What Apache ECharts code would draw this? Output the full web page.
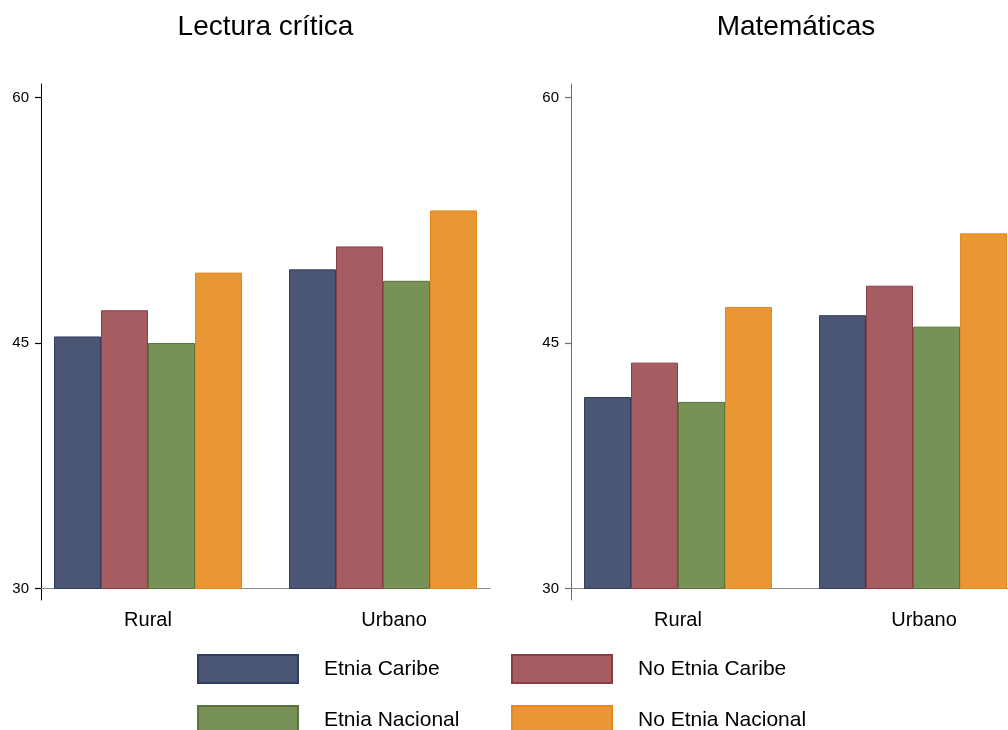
<!DOCTYPE html>
<html>
<head>
<meta charset="utf-8">
<script src="https://cdn.jsdelivr.net/npm/echarts@6/dist/echarts.min.js"></script>
<style>
html,body{margin:0;padding:0;background:#fff;}
#chart{width:1008px;height:730px;}
</style>
</head>
<body>
<div id="chart"></div>
<script>
var categories = ['Rural', 'Urbano'];
var seriesNames = ['Etnia Caribe', 'No Etnia Caribe', 'Etnia Nacional', 'No Etnia Nacional'];
var panelTitles = ['Lectura crítica', 'Matemáticas'];
var yTicks = [30, 45, 60];

// Lectura crítica
var lecEtniaCaribe = [45.4, 49.5];
var lecNoEtniaCaribe = [47.0, 50.9];
var lecEtniaNacional = [45.0, 48.8];
var lecNoEtniaNacional = [49.3, 53.1];

// Matemáticas
var matEtniaCaribe = [41.7, 46.7];
var matNoEtniaCaribe = [43.8, 48.5];
var matEtniaNacional = [41.4, 46.0];
var matNoEtniaNacional = [47.2, 51.7];

var fills = ['#4b5675', '#a65d61', '#789156', '#e99734'];
var borders = ['#2f3d5e', '#8e3c43', '#5b7339', '#e3891d'];
var FONT = "'Liberation Sans', Arial, sans-serif";

var panelData = [
  [lecEtniaCaribe, lecNoEtniaCaribe, lecEtniaNacional, lecNoEtniaNacional],
  [matEtniaCaribe, matNoEtniaCaribe, matEtniaNacional, matNoEtniaNacional]
];
var axisColors = ['#000000', '#6e6e6e'];
var panelOffset = [0, 530];

var grids = [], xAxes = [], yAxes = [], series = [];
var yMin = yTicks[0], yMax = yTicks[yTicks.length - 1];
panelData.forEach(function (sets, p) {
  var off = panelOffset[p];
  // data grid
  grids.push({left: 30.5 + off, top: 97.5, width: 470, height: 491, containLabel: false, outerBoundsMode: 'none'});
  var gi = grids.length - 1;
  xAxes.push({
    type: 'category', gridIndex: gi, data: categories,
    axisLine: {show: false}, axisTick: {show: false},
    axisLabel: {
      margin: 22, fontSize: 20, color: '#000', fontFamily: FONT,
      formatter: function (v) { return v === 'Urbano' ? '{u|' + v + '}' : v; },
      rich: {u: {padding: [0, 0, 0, 22], fontSize: 20, color: '#000', fontFamily: FONT}}
    }
  });
  yAxes.push({
    type: 'value', gridIndex: gi, min: yMin, max: yMax, interval: 15, show: false
  });
  sets.forEach(function (vals, s) {
    series.push({
      name: seriesNames[s], type: 'bar', xAxisIndex: gi, yAxisIndex: gi,
      data: vals, barGap: '0%', barCategoryGap: '20%',
      itemStyle: {color: fills[s], borderColor: borders[s], borderWidth: 1},
      emphasis: {disabled: true}, animation: false
    });
  });
  // frame grid (axis lines only)
  grids.push({left: 41 + off, top: 84, width: 449, height: 516, outerBoundsMode: 'none'});
  var fi = grids.length - 1;
  xAxes.push({
    type: 'value', gridIndex: fi, min: 0, max: 449,
    axisLine: {show: true, onZero: true, lineStyle: {color: '#8a8a8a', width: 1}},
    axisTick: {show: false}, axisLabel: {show: false}, splitLine: {show: false}
  });
  yAxes.push({
    type: 'value', gridIndex: fi, min: -12, max: 504,
    axisLine: {show: true, onZero: true, lineStyle: {color: axisColors[p], width: 1}},
    axisTick: {show: false}, axisLabel: {show: false}, splitLine: {show: false}
  });
  // tick grid (y ticks and labels at the axis position)
  grids.push({left: 41 + off, top: 97.5, width: 449, height: 491, outerBoundsMode: 'none'});
  var ti = grids.length - 1;
  xAxes.push({type: 'category', gridIndex: ti, data: categories, show: false});
  yAxes.push({
    type: 'value', gridIndex: ti, min: yMin, max: yMax, interval: 15,
    axisLine: {show: true, onZero: false, lineStyle: {color: axisColors[p], width: 1}},
    axisTick: {show: true, inside: false, length: 6, lineStyle: {color: axisColors[p], width: 1.2}},
    axisLabel: {margin: 12, fontSize: 15, color: '#000', fontFamily: FONT},
    splitLine: {show: false}
  });
});

var legendPos = [[197, 654], [511, 654], [197, 705], [511, 705]];
var legends = seriesNames.map(function (n, i) {
  return {
    data: [n], left: legendPos[i][0], top: legendPos[i][1], padding: 0,
    icon: 'rect', itemWidth: 100, itemHeight: 28, selectedMode: false,
    textStyle: {fontSize: 21, color: '#000', fontFamily: FONT, padding: [0, 0, 0, 21]}
  };
});

var titleCenters = [265.5, 796];
var graphics = panelTitles.map(function (t, i) {
  return {
    type: 'text', x: titleCenters[i], y: 13,
    style: {text: t, fontSize: 28, fontFamily: FONT, fill: '#000', textAlign: 'center', textVerticalAlign: 'top'}
  };
});

var chart = echarts.init(document.getElementById('chart'), null, {renderer: 'canvas'});
chart.setOption({
  backgroundColor: '#ffffff',
  animation: false,
  grid: grids,
  xAxis: xAxes,
  yAxis: yAxes,
  legend: legends,
  graphic: graphics,
  series: series
});
</script>
</body>
</html>
